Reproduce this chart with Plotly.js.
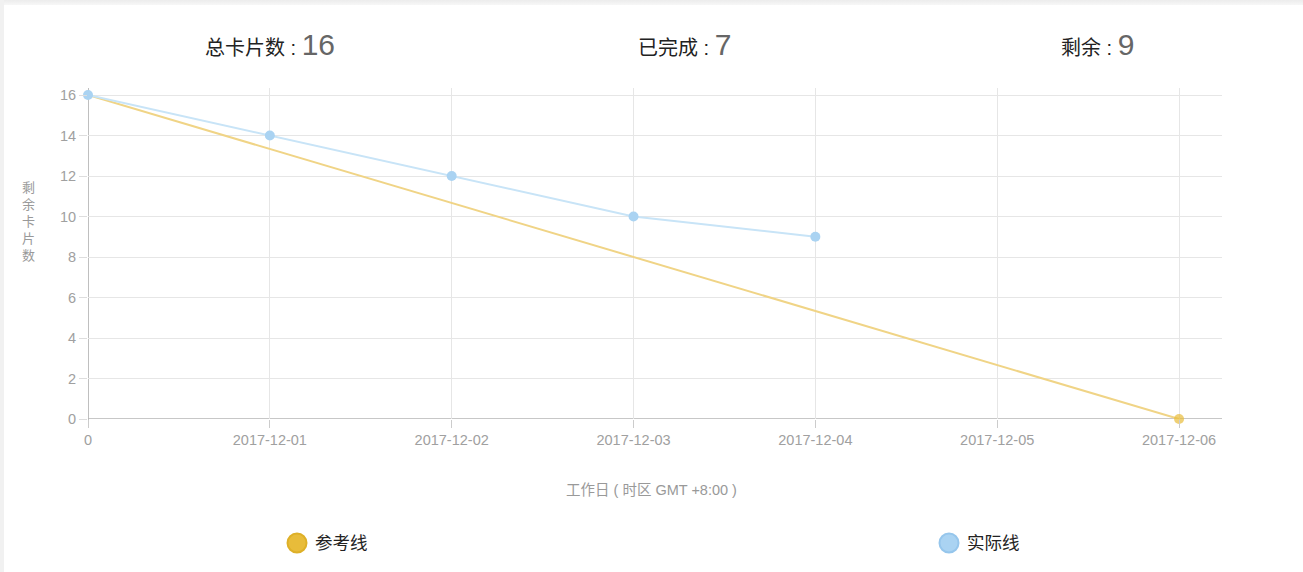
<!DOCTYPE html>
<html>
<head>
<meta charset="utf-8">
<script src="https://cdn.plot.ly/plotly-3.0.1.min.js"></script>
<style>
  html, body { margin: 0; padding: 0; background: #fff; }
  #wrap { position: relative; width: 1303px; height: 572px; overflow: hidden; }
  #chart { position: absolute; left: 0; top: 0; width: 1303px; height: 572px; }
  #topband { position: absolute; left: 0; top: 0; width: 1303px; height: 5px; background: linear-gradient(#ececec, #f7f7f7); }
  #leftband { position: absolute; left: 0; top: 0; width: 4px; height: 572px; background: #f1f1f1; }
</style>
</head>
<body>
<div id="wrap">
  <div id="chart"></div>
  <div id="topband"></div>
  <div id="leftband"></div>
</div>
<script>
// ---- data ----
const tickLabels = ["0", "2017-12-01", "2017-12-02", "2017-12-03", "2017-12-04", "2017-12-05", "2017-12-06"];
const refX = [0, 6];
const refY = [16, 0];
const actualX = [0, 1, 2, 3, 4];
const actualY = [16, 14, 12, 10, 9];
const summaryLabels = ["总卡片数", "已完成", "剩余"];
const summaryValues = [16, 7, 9];
const legendNames = ["参考线", "实际线"];
const yTitle = "剩余卡片数";
const xTitle = "工作日 ( 时区 GMT +8:00 )";

const refLine = "rgb(240,212,134)";
const refMarker = "rgb(232,188,58)";
const actLine = "rgb(200,228,247)";
const actMarker = "rgb(170,211,242)";

const font = "Arial, 'Liberation Sans', 'Noto Sans CJK SC', sans-serif";

const traces = [
  {
    x: refX, y: refY, type: "scatter", mode: "lines+markers", name: legendNames[0],
    line: { color: refLine, width: 2 },
    marker: { color: [refLine, refMarker], size: [0.1, 10], line: { width: 0 } },
    cliponaxis: false, showlegend: false
  },
  {
    x: actualX, y: actualY, type: "scatter", mode: "lines+markers", name: legendNames[1],
    line: { color: actLine, width: 2 },
    marker: { color: actMarker, size: 10 },
    cliponaxis: false, showlegend: false
  }
];

const L = 88, R = 81, T = 88, B = 153, W = 1303, H = 572;
const plotW = W - L - R, plotH = H - T - B;
function px2paperX(px) { return (px - L) / plotW; }
function px2paperY(py) { return (H - B - py) / plotH; }

const summaryPx = [270, 684, 1097];
const annotations = summaryLabels.map((lab, i) => ({
  xref: "paper", yref: "paper", x: px2paperX(summaryPx[i]), y: px2paperY(44),
  xanchor: "center", yanchor: "middle", showarrow: false,
  text: lab + ' : <span style="font-size:30px;color:#666">' + summaryValues[i] + '</span>',
  font: { family: font, size: 20, color: "#222" }
}));

annotations.push({
  xref: "paper", yref: "paper", x: px2paperX(28), y: px2paperY(221),
  xanchor: "center", yanchor: "middle", showarrow: false,
  text: yTitle.split("").join("<br>"),
  font: { family: font, size: 13, color: "#999" }
});
annotations.push({
  xref: "paper", yref: "paper", x: px2paperX(651), y: px2paperY(490),
  xanchor: "center", yanchor: "middle", showarrow: false,
  text: xTitle, font: { family: font, size: 14.5, color: "#999" }
});

const legendPx = [297, 949];
const legendColors = [[refMarker, "rgb(222,176,40)"], [actMarker, "rgb(150,198,236)"]];
const shapes = [];
legendNames.forEach((n, i) => {
  annotations.push({
    xref: "paper", yref: "paper", x: px2paperX(legendPx[i] + 16), y: px2paperY(543),
    xanchor: "left", yanchor: "middle", showarrow: false,
    text: n, font: { family: font, size: 17.5, color: "#222" }
  });
  shapes.push({
    type: "circle", xref: "paper", yref: "paper", xsizemode: "pixel", ysizemode: "pixel",
    xanchor: px2paperX(legendPx[i]), yanchor: px2paperY(543),
    x0: -9.5, x1: 9.5, y0: -9.5, y1: 9.5,
    fillcolor: legendColors[i][0], line: { color: legendColors[i][1], width: 2 }
  });
});

const layout = {
  width: W, height: H,
  margin: { l: L, r: R, t: T, b: B, pad: 0 },
  paper_bgcolor: "#fff", plot_bgcolor: "#fff",
  font: { family: font, color: "#999", size: 13 },
  showlegend: false,
  xaxis: {
    range: [0, 6 + 43 / 182], tickmode: "array", tickvals: tickLabels.map((_, i) => i), ticktext: tickLabels,
    showgrid: true, gridcolor: "#e6e6e6", gridwidth: 1,
    zeroline: false, showline: false,
    ticks: "outside", ticklen: 8, tickcolor: "#ccc",
    tickfont: { family: font, size: 14.5, color: "#a0a0a0" },
    fixedrange: true
  },
  yaxis: {
    range: [0, 16 + 7 / 20.25], tickmode: "array", tickvals: [0, 2, 4, 6, 8, 10, 12, 14, 16],
    showgrid: true, gridcolor: "#e6e6e6", gridwidth: 1,
    zeroline: false, showline: false,
    ticks: "outside", ticklen: 8, tickcolor: "#ddd",
    tickfont: { family: font, size: 14.5, color: "#a0a0a0" },
    fixedrange: true
  },
  shapes: shapes.concat([
    { type: "line", xref: "x", yref: "paper", x0: 0, x1: 0, y0: -8 / plotH, y1: 1, line: { color: "#aaa", width: 1.5 }, layer: "below" },
    { type: "line", xref: "paper", yref: "y", x0: 0, x1: 1, y0: 0, y1: 0, line: { color: "#b5b5b5", width: 1.5 }, layer: "below" }
  ]),
  annotations: annotations
};

Plotly.newPlot("chart", traces, layout, { displayModeBar: false, staticPlot: true });
</script>
</body>
</html>
